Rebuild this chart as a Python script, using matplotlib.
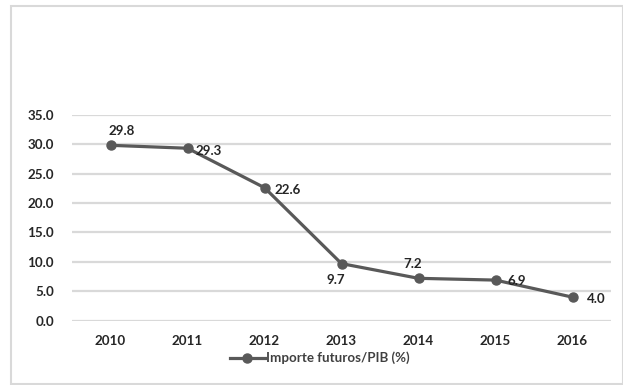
import matplotlib.pyplot as plt
from matplotlib.patches import Rectangle

years = ['2010', '2011', '2012', '2013', '2014', '2015', '2016']
valores = [29.8, 29.3, 22.6, 9.7, 7.2, 6.9, 4.0]
# posicion de cada etiqueta: (dx, dy) en puntos
offsets = [(8, 10), (15, -2), (17, -2), (-4, -12), (-4, 10), (15, -1), (17, -1)]

plt.rcParams['font.family'] = ['Lato', 'DejaVu Sans']
plt.rcParams['font.weight'] = 'bold'
fs = 9.6

fig = plt.figure(figsize=(6.23, 3.85), dpi=100)
ax = fig.add_axes([72 / 623, 1 - 320.7 / 385, (611 - 72) / 623, (320.7 - 114.7) / 385])

x = range(len(years))
ax.plot(x, valores, color='#595959', lw=2.3, marker='o', ms=6.5,
        label='Importe futuros/PIB (%)', zorder=3)

for i, v in enumerate(valores):
    ax.annotate(f'{v:.1f}', (i, v), xytext=offsets[i], textcoords='offset points',
                ha='center', va='center', fontsize=fs, color='#262626')

ax.set_xlim(-0.5, len(years) - 0.5)
ax.set_ylim(0, 35)
ax.set_yticks(range(0, 36, 5))
ax.set_yticklabels([f'{t:.1f}' for t in range(0, 36, 5)])
ax.set_xticks(list(x))
ax.set_xticklabels(years)
ax.tick_params(length=0, labelsize=fs, labelcolor='#262626', pad=10)
ax.tick_params(axis='y', pad=13)
ax.grid(axis='y', color='#d9d9d9', lw=1.6)
ax.set_axisbelow(True)
for s in ax.spines.values():
    s.set_visible(False)

leg = ax.legend(loc='upper center', bbox_to_anchor=(0.46, -0.125), frameon=False,
                fontsize=fs, handlelength=2.6, handletextpad=0.1, borderaxespad=0)
for t in leg.get_texts():
    t.set_color('#404040')

fig.patches.append(Rectangle((11 / 623, 1 / 385), 1 - 11 / 623, 1 - 7 / 385,
                             transform=fig.transFigure, fill=False,
                             edgecolor='#d9d9d9', lw=1.5))

fig.savefig('out.png', dpi=100)
